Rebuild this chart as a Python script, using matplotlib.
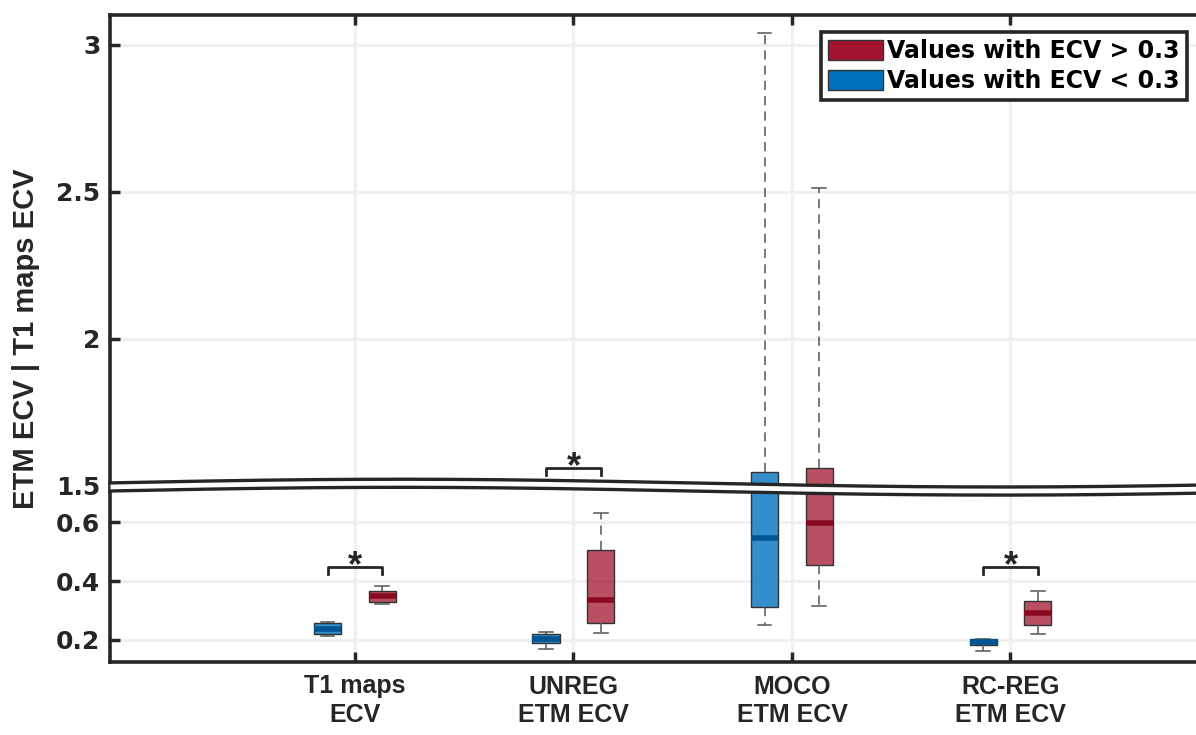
import numpy as np
import matplotlib.pyplot as plt
from matplotlib.patches import Patch

# box statistics (low group = ECV < 0.3, high group = ECV > 0.3)
methods = ["T1 maps\nECV", "UNREG\nETM ECV", "MOCO\nETM ECV", "RC-REG\nETM ECV"]
low_whislo = [0.215, 0.169, 0.250, 0.161]
low_q1 = [0.220, 0.191, 0.313, 0.184]
low_med = [0.237, 0.202, 0.548, 0.194]
low_q3 = [0.257, 0.219, 1.547, 0.203]
low_whishi = [0.260, 0.226, 3.040, 0.203]
high_whislo = [0.321, 0.225, 0.316, 0.221]
high_q1 = [0.328, 0.257, 0.454, 0.251]
high_med = [0.348, 0.337, 0.598, 0.293]
high_q3 = [0.365, 0.506, 1.560, 0.334]
high_whishi = [0.382, 0.631, 2.513, 0.365]
# significance brackets: (method index, height)
sig_idx = [0, 1, 3]
sig_y = [0.447, 1.559, 0.447]

yticks = [0.2, 0.4, 0.6, 1.5, 2, 2.5, 3]

RED = (0.635, 0.078, 0.184)
BLUE = (0.0, 0.447, 0.741)
DARK = "#262626"

# broken y axis: squeeze 0.72 .. 1.5 into a tiny band
LO, HI, GAP = 0.72, 1.5, 0.005
OFF = HI - LO - GAP


def fwd(v):
    v = np.asarray(v, dtype=float)
    return np.where(v <= LO, v, np.where(v >= HI, v - OFF, LO + (v - LO) * GAP / (HI - LO)))


def inv(d):
    d = np.asarray(d, dtype=float)
    return np.where(d <= LO, d, np.where(d >= LO + GAP, d + OFF, LO + (d - LO) * (HI - LO) / GAP))


def stats(whislo, q1, med, q3, whishi):
    return [dict(whislo=a, q1=b, med=c, q3=d, whishi=e, fliers=[])
            for a, b, c, d, e in zip(whislo, q1, med, q3, whishi)]


fig = plt.figure(figsize=(11.96, 7.35), dpi=100)
ax = fig.add_axes([110 / 1196, 73 / 735, 1086 / 1196, 647 / 735])
ax.set_yscale("function", functions=(fwd, inv))
ymin, ymax = 0.125, 3.102
ax.set_ylim(ymin, ymax)
ax.set_xlim(-0.121, 4.849)

x = np.arange(1, len(methods) + 1)
off, w = 0.125, 0.125


def draw(st, pos, col, medcol, alpha):
    ax.bxp(st, positions=pos, widths=w, patch_artist=True, showfliers=False,
           capwidths=w / 2,
           boxprops=dict(facecolor=(*col, alpha), edgecolor="#333333", linewidth=1.0),
           medianprops=dict(color=medcol, linewidth=4, solid_capstyle="butt"),
           whiskerprops=dict(color="#555555", linewidth=1.1, linestyle=(0, (6, 4))),
           capprops=dict(color="#555555", linewidth=1.1))


draw(stats(low_whislo, low_q1, low_med, low_q3, low_whishi), x - off, BLUE, "#005592", 0.8)
draw(stats(high_whislo, high_q1, high_med, high_q3, high_whishi), x + off, RED, "#880a20", 0.75)

# significance brackets
for i, yb in zip(sig_idx, sig_y):
    xc = x[i]
    tick = 0.024
    ax.plot([xc - off, xc - off, xc + off, xc + off], [yb - tick, yb, yb, yb - tick],
            color=DARK, lw=2, zorder=5)
    ax.text(xc, yb + 0.004, "*", ha="center", va="center", fontsize=26, fontweight="bold",
            family="Liberation Sans", color=DARK, zorder=5)

# axis styling
ax.set_xticks(x)
ax.set_xticklabels(methods, family="Liberation Sans", fontweight="bold", fontsize=18,
                   color=DARK, linespacing=1.25)
ax.set_yticks(yticks)
ax.set_yticklabels([f"{t:g}" for t in yticks], family="DejaVu Sans", fontweight="bold",
                   fontsize=18, color=DARK)
ax.minorticks_off()
ax.tick_params(axis="x", direction="in", length=7, width=2.5, color=DARK, top=True, pad=9)
ax.tick_params(axis="y", direction="in", length=7, width=2.5, color=DARK, pad=7)
ax.grid(True, color="#f0f0f0", linewidth=2.2)
ax.set_axisbelow(True)
for s in ["left", "top", "bottom"]:
    ax.spines[s].set_linewidth(2.6)
    ax.spines[s].set_color(DARK)
ax.spines["right"].set_visible(False)

ax.set_ylabel("ETM ECV | T1 maps ECV", family="Liberation Sans", fontweight="bold",
              fontsize=21, color=DARK)
ax.yaxis.set_label_coords(-0.064, 0.5)

# wavy break band (axes fraction coordinates)
dspan = float(fwd(ymax) - fwd(ymin))
u = np.linspace(0, 1, 400)
d_mid = float(fwd(HI))
frac_mid = (d_mid - float(fwd(ymin))) / dspan
wave = 0.006 * np.cos(2 * np.pi * (u - 0.267) / 1.105)
upper = frac_mid + 0.004 + wave
lower = upper - 0.0125
ax.fill_between(u, lower, upper, color="white", transform=ax.transAxes, zorder=6,
                clip_on=False, linewidth=0)
ax.plot(u, upper, color=DARK, lw=2.4, transform=ax.transAxes, zorder=7, clip_on=False)
ax.plot(u, lower, color=DARK, lw=2.4, transform=ax.transAxes, zorder=7, clip_on=False)

# legend
handles = [Patch(facecolor=RED, edgecolor="#333333", label="Values with ECV > 0.3"),
           Patch(facecolor=BLUE, edgecolor="#333333", label="Values with ECV < 0.3")]
leg = ax.legend(handles=handles, loc="upper right", bbox_to_anchor=(0.9917, 0.9737),
                borderaxespad=0, fancybox=False, framealpha=1, handlelength=2.3,
                handleheight=0.95, handletextpad=0.2, labelspacing=0.25, borderpad=0.3,
                prop=dict(family="DejaVu Sans", weight="bold", size=17))
leg.get_frame().set_edgecolor(DARK)
leg.get_frame().set_linewidth(2.6)
leg.set_zorder(10)

fig.savefig("out.png", dpi=100)
